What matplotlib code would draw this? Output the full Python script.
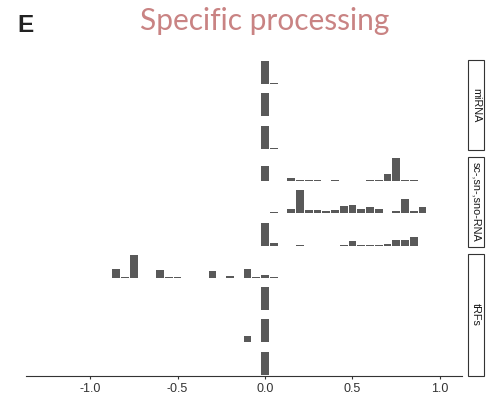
import numpy as np
import matplotlib
matplotlib.use("Agg")
import matplotlib.pyplot as plt
from matplotlib.patches import Rectangle

# bin centres (binwidth 0.05) and bar heights (% of the row max) for each small panel
mirna_1_x = [0.0, 0.05]
mirna_1_y = [100, 3]
mirna_2_x = [-0.05, 0.0]
mirna_2_y = [3, 100]
mirna_3_x = [0.0, 0.05]
mirna_3_y = [100, 3]

sno_1_x = [0.0, 0.15, 0.2, 0.25, 0.3, 0.4, 0.6, 0.65, 0.7, 0.75, 0.8, 0.85]
sno_1_y = [63, 12, 6, 4, 3, 6, 3, 4, 29, 100, 4, 2]
sno_2_x = [0.0, 0.05, 0.15, 0.2, 0.25, 0.3, 0.35, 0.4, 0.45, 0.5, 0.55,
           0.6, 0.65, 0.7, 0.75, 0.8, 0.85, 0.9]
sno_2_y = [2, 6, 18, 100, 15, 12, 8, 15, 30, 37, 18, 27, 18, 2, 10, 62, 8, 27]
sno_3_x = [0.0, 0.05, 0.2, 0.45, 0.5, 0.55, 0.6, 0.65, 0.7, 0.75, 0.8, 0.85]
sno_3_y = [100, 12, 2, 2, 18, 2, 2, 2, 7, 26, 26, 36]

trf_1_x = [-0.85, -0.8, -0.75, -0.6, -0.55, -0.5, -0.3, -0.2, -0.1, -0.05, 0.0, 0.05]
trf_1_y = [37, 4, 100, 32, 4, 4, 30, 8, 40, 4, 12, 4]
trf_2_x = [0.0]
trf_2_y = [100]
trf_3_x = [-0.1, 0.0]
trf_3_y = [29, 100]
trf_4_x = [0.0]
trf_4_y = [100]

rows = [(mirna_1_x, mirna_1_y), (mirna_2_x, mirna_2_y), (mirna_3_x, mirna_3_y),
        (sno_1_x, sno_1_y), (sno_2_x, sno_2_y), (sno_3_x, sno_3_y),
        (trf_1_x, trf_1_y), (trf_2_x, trf_2_y), (trf_3_x, trf_3_y), (trf_4_x, trf_4_y)]

groups = [("miRNA", 0, 2), ("sc-,sn-,sno-RNA", 3, 5), ("tRFs", 6, 9)]
xticks = [-1.0, -0.5, 0.0, 0.5, 1.0]

W, H = 488, 397
fig = plt.figure(figsize=(W / 100, H / 100), dpi=100)

left, right = 26, 462
top0, pitch, ph = 59.85, 32.3, 25.3


def fy(py):
    return 1 - py / H


axes = []
for i, (xs, ys) in enumerate(rows):
    t = top0 + i * pitch
    ax = fig.add_axes([left / W, fy(t + ph), (right - left) / W, ph / H])
    ax.bar(xs, ys, width=0.045, color="#595959", linewidth=0)
    m = max(ys)
    ax.set_ylim(-0.05 * m, 1.05 * m)
    ax.set_xlim(-1.366, 1.126)
    for s in ax.spines.values():
        s.set_visible(False)
    ax.set_yticks([])
    ax.set_xticks([])
    ax.patch.set_alpha(0)
    axes.append(ax)

bottom = axes[-1]
bottom.spines["bottom"].set_visible(True)
bottom.spines["bottom"].set_color("#333333")
bottom.spines["bottom"].set_linewidth(0.8)
bottom.set_xticks(xticks)
bottom.set_xticklabels([f"{v:.1f}" for v in xticks])
bottom.tick_params(axis="x", length=2.5, width=0.8, color="#333333",
                   labelcolor="#333333", labelsize=9, pad=2.5)
for lab in bottom.get_xticklabels():
    lab.set_family("Liberation Sans")

# facet strips on the right
for name, r0, r1 in groups:
    t = top0 + r0 * pitch
    b = top0 + r1 * pitch + ph
    fig.add_artist(Rectangle((468 / W, fy(b)), 16 / W, (b - t) / H,
                             transform=fig.transFigure, facecolor="white",
                             edgecolor="#333333", linewidth=0.8))
    fig.text(476 / W, fy((t + b) / 2), name, rotation=270, ha="center", va="center",
             fontsize=7.8, color="#1a1a1a", family="Liberation Sans")

fig.text(265 / W, fy(30), "Specific processing", ha="center", va="baseline",
         fontsize=21.5, color="#c98383", family="Lato")
fig.text(17 / W, fy(31.5), "E", ha="left", va="baseline", fontsize=17.5,
         fontweight="bold", color="#222222", family="Liberation Sans")

fig.savefig("out.png", dpi=100)
